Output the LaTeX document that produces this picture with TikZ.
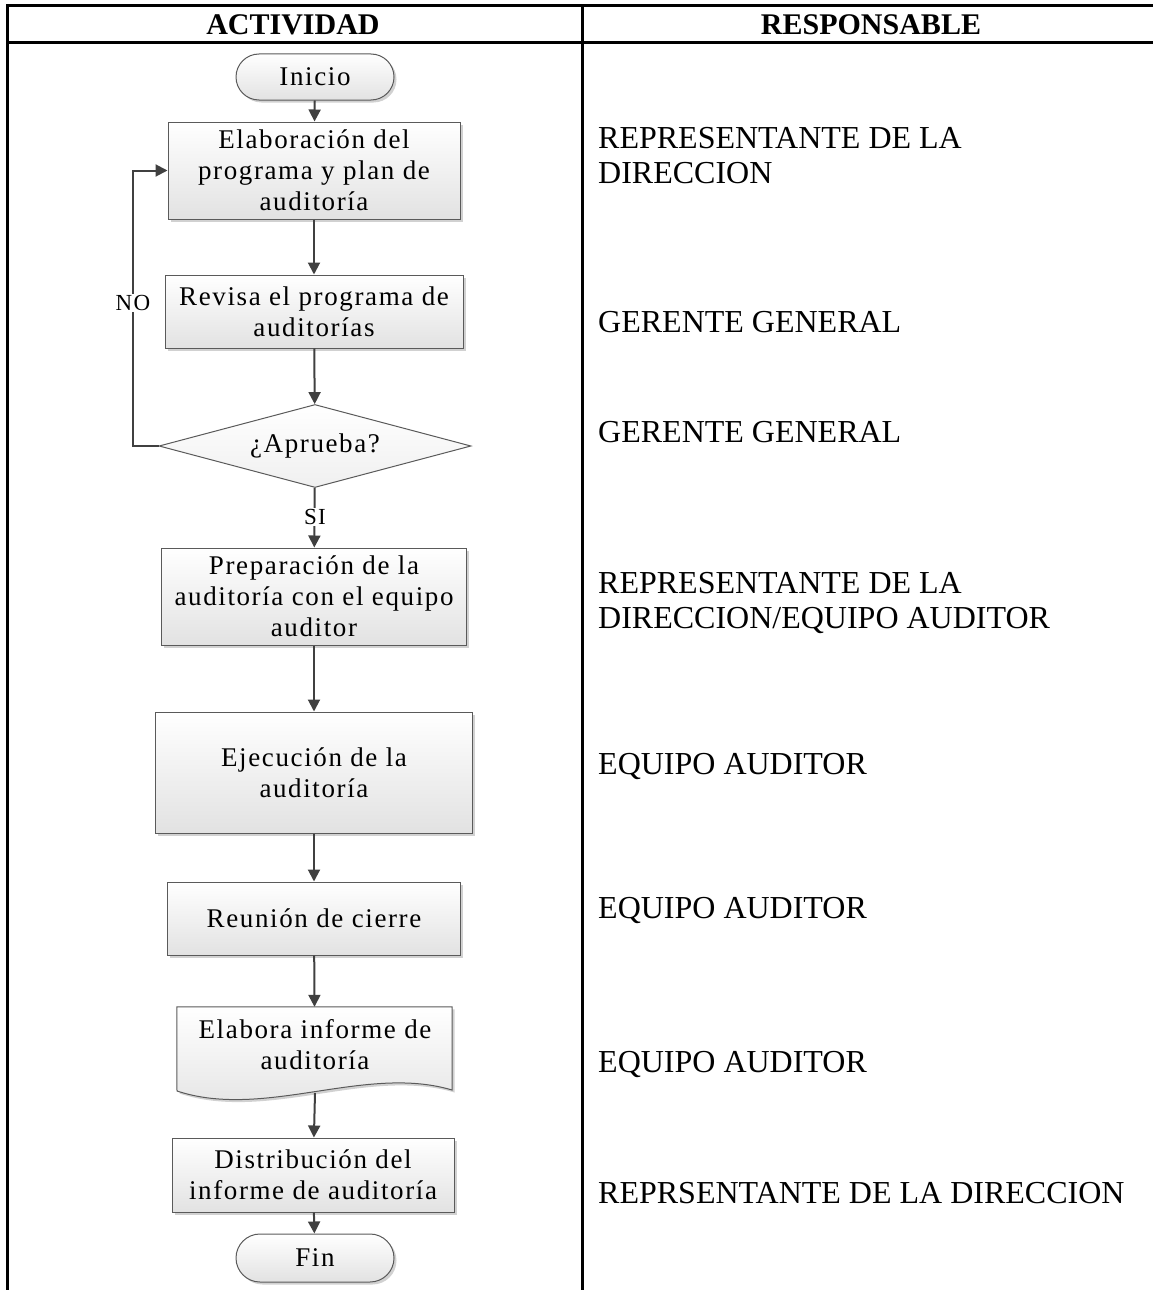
\documentclass[tikz,border=0pt]{standalone}
\usepackage{fontspec}
\setmainfont{Liberation Serif}
\newfontfamily\boxfont{Liberation Serif}[LetterSpace=6]
\usetikzlibrary{arrows.meta,shapes.geometric,shapes.misc,shadows}

\definecolor{boxline}{HTML}{5A5A5A}
\definecolor{boxbot}{HTML}{E2E2E2}
\definecolor{flowcol}{HTML}{404040}

\tikzset{
  shade box/.style={draw=boxline, line width=1pt, top color=white, bottom color=boxbot,
    drop shadow={shadow xshift=2.5pt, shadow yshift=-2.5pt, fill=black!30, opacity=0.6},
    font=\boxfont\fontsize{27}{31}\selectfont, align=center, inner sep=0pt},
  stepbox/.style={shade box, rectangle},
  termbox/.style={shade box, rounded rectangle, minimum width=158pt, minimum height=46pt},
  decbox/.style={draw=boxline, line width=1pt, top color=white, bottom color=black!6,
    diamond, aspect=3.78, minimum width=312pt, minimum height=83pt, inner sep=0pt,
    font=\boxfont\fontsize{27}{31}\selectfont},
  flow/.style={draw=flowcol, line width=2pt, -{Triangle[length=12pt,width=12pt]}},
  edgelbl/.style={fill=white, inner sep=1.5pt, font=\boxfont\fontsize{23}{26}\selectfont},
  headtxt/.style={font=\bfseries\fontsize{30}{36}\selectfont},
  resp/.style={anchor=base west, align=left, inner sep=0pt, font=\fontsize{32}{35}\selectfont},
  rule/.style={line width=3pt, draw=black}
}

\begin{document}
\begin{tikzpicture}[x=1pt,y=-1pt]
\useasboundingbox (0,0) rectangle (1153,1290);

% table frame
\draw[rule] (7,1290) -- (7,6) -- (1153,6);
\draw[rule] (7,43) -- (1153,43);
\draw[rule] (582,6) -- (582,1290);
\node[headtxt] (hact) at (293,25) {ACTIVIDAD};
\node[headtxt] (hresp) at (871,25) {RESPONSABLE};

% flowchart
\node[termbox] (ini) at (315,77) {Inicio};
\node[stepbox, minimum width=292pt, minimum height=97pt] (elab) at (314,170.5)
  {Elaboración del\\programa y plan de\\auditoría};
\node[stepbox, minimum width=298pt, minimum height=73pt] (rev) at (314,311.5)
  {Revisa el programa de\\auditorías};
\node[decbox] (dec) at (315,446) {¿Aprueba?};
\node[stepbox, minimum width=305pt, minimum height=97pt] (prep) at (314,596.5)
  {Preparación de la\\auditoría con el equipo\\auditor};
\node[stepbox, minimum width=317pt, minimum height=121pt] (ejec) at (314,772.5)
  {Ejecución de la\\auditoría};
\node[stepbox, minimum width=293pt, minimum height=73pt] (reun) at (314,918.5)
  {Reunión de cierre};

% document shape with a wavy lower edge
\node[minimum width=275pt, minimum height=84pt, inner sep=0pt] (doc) at (314.5,1049) {};
\path[draw=boxline, line width=1pt, top color=white, bottom color=boxbot,
      drop shadow={shadow xshift=2.5pt, shadow yshift=-2.5pt, fill=black!30, opacity=0.6}]
  (doc.north west) -- (doc.north east) -- (452,1090)
  .. controls (365,1064) and (265,1120) .. (177,1091) -- cycle;
\node[align=center, inner sep=0pt, font=\boxfont\fontsize{27}{31}\selectfont] (doctxt) at (315,1045)
  {Elabora informe de\\auditoría};
\coordinate (docout) at (315,1093);

\node[stepbox, minimum width=282pt, minimum height=74pt] (dist) at (313,1175)
  {Distribución del\\informe de auditoría};
\node[termbox, minimum height=48pt] (fin) at (315,1258) {Fin};

% connectors
\draw[flow] (ini) -- (elab);
\draw[flow] (elab) -- (rev);
\draw[flow] (rev) -- (dec);
\draw[flow] (dec) -- (prep);
\draw[flow] (prep) -- (ejec);
\draw[flow] (ejec) -- (reun);
\draw[flow] (reun) -- (doc.north);
\draw[flow] (docout) -- (dist);
\draw[flow] (dist) -- (fin);
\draw[flow] (dec.west) -- (133,446) -- (133,170.5) -- (elab.west);
\node[edgelbl] (lblno) at (133,303) {NO};
\node[edgelbl] (lblsi) at (315,517) {SI};

% responsible column
\node[resp] (r1) at (598,183) {REPRESENTANTE DE LA\\DIRECCION};
\node[resp] (r2) at (598,332) {GERENTE GENERAL};
\node[resp] (r3) at (598,442) {GERENTE GENERAL};
\node[resp] (r4) at (598,628) {REPRESENTANTE DE LA\\DIRECCION/EQUIPO AUDITOR};
\node[resp] (r5) at (598,774) {EQUIPO AUDITOR};
\node[resp] (r6) at (598,918) {EQUIPO AUDITOR};
\node[resp] (r7) at (598,1072) {EQUIPO AUDITOR};
\node[resp] (r8) at (598,1203) {REPRSENTANTE DE LA DIRECCION};
\end{tikzpicture}
\end{document}
